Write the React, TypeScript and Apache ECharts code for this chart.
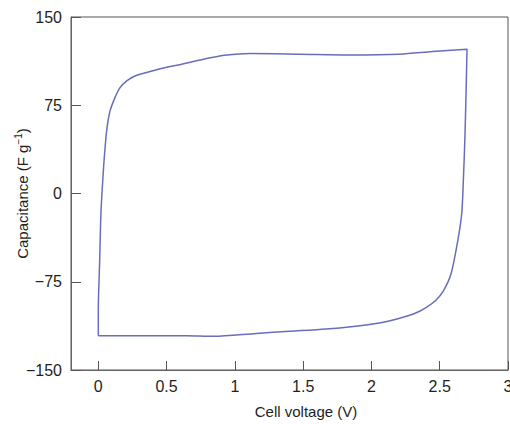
import React, { useEffect, useRef } from "react";
import * as echarts from "echarts";

const voltage = [
  0.0, 0.0, 0.01, 0.02, 0.037, 0.042, 0.061, 0.086, 0.122, 0.159, 0.208, 0.268, 0.414, 0.61,
  0.829, 0.926, 1.109, 1.474, 1.84, 2.205, 2.447, 2.7,
  2.686, 2.673, 2.661, 2.632, 2.583, 2.526, 2.47, 2.4, 2.32, 2.2, 2.059, 1.85, 1.67, 1.4, 1.158,
  0.841, 0.646, 0.0,
];
const capacitance = [
  -120.8, -99.6, -57.1, -14.7, 19.3, 27.8, 53.2, 70.2, 81.5, 90.0, 95.7, 99.9, 104.8, 109.9,
  115.5, 117.5, 118.9, 118.4, 117.8, 118.4, 120.6, 122.6,
  53.2, 10.8, -17.2, -40.2, -68.2, -83.0, -91.0, -97.0, -101.8, -106.2, -110.0, -113.2, -115.1, -117.1, -118.9,
  -121.4, -120.8, -120.8,
];
const xTicks = [0, 0.5, 1, 1.5, 2, 2.5, 3];
const yTicks = [-150, -75, 0, 75, 150];

const FONT = "'Liberation Sans', Arial, sans-serif";

export default function App() {
  const ref = useRef<HTMLDivElement>(null);
  useEffect(() => {
    if (!ref.current) return;
    const chart = echarts.init(ref.current, undefined, { renderer: "svg" });
    const points = voltage.map((v, i) => [v, capacitance[i]]);
    chart.setOption({
      animation: false,
      grid: {
        left: 71,
        right: 2,
        top: 17,
        bottom: 54,
        containLabel: false,
        outerBoundsMode: "none",
        show: true,
        borderColor: "#555",
        borderWidth: 1,
      },
      xAxis: {
        type: "value",
        min: -0.2,
        max: 3,
        splitLine: { show: false },
        axisLine: { onZero: false, lineStyle: { color: "#666", width: 1 } },
        axisTick: {
          inside: true,
          length: 9,
          lineStyle: { color: "#555" },
          customValues: xTicks,
        },
        axisLabel: {
          customValues: xTicks,
          color: "#231f20",
          fontSize: 16,
          fontFamily: FONT,
          margin: 8,
          formatter: (v: number) => String(v),
        },
        name: "Cell voltage (V)",
        nameLocation: "middle",
        nameGap: 34,
        nameMoveOverlap: false,
        nameTextStyle: {
          color: "#231f20",
          fontSize: 15,
          fontFamily: FONT,
          padding: [0, 0, 0, 33],
        },
      },
      yAxis: {
        type: "value",
        min: -150,
        max: 150,
        interval: 75,
        splitLine: { show: false },
        axisLine: { onZero: false, lineStyle: { color: "#666", width: 1 } },
        axisTick: {
          inside: true,
          length: 10,
          lineStyle: { color: "#555" },
        },
        axisLabel: {
          color: "#231f20",
          fontSize: 16,
          fontFamily: FONT,
          margin: 9,
          formatter: (v: number) =>
            yTicks.includes(v) ? String(v).replace("-", "\u2212") : "",
        },
        name: "Capacitance (F g{sup|\u22121})",
        nameLocation: "middle",
        nameGap: 40,
        nameMoveOverlap: false,
        nameTextStyle: {
          color: "#231f20",
          fontSize: 15,
          fontFamily: FONT,
          rich: {
            sup: {
              fontSize: 10,
              fontFamily: FONT,
              color: "#231f20",
              verticalAlign: "top",
              padding: [0, 0, 8, 0],
            },
          },
        },
      },
      series: [
        {
          type: "line",
          data: points,
          showSymbol: false,
          symbol: "none",
          smooth: 0.3,
          lineStyle: { color: "#6a6db8", width: 1.5 },
        },
      ],
    });
    return () => chart.dispose();
  }, []);
  return (
    <div
      ref={ref}
      style={{ position: "fixed", left: 0, top: 0, width: 510, height: 424, background: "#fff" }}
    />
  );
}
